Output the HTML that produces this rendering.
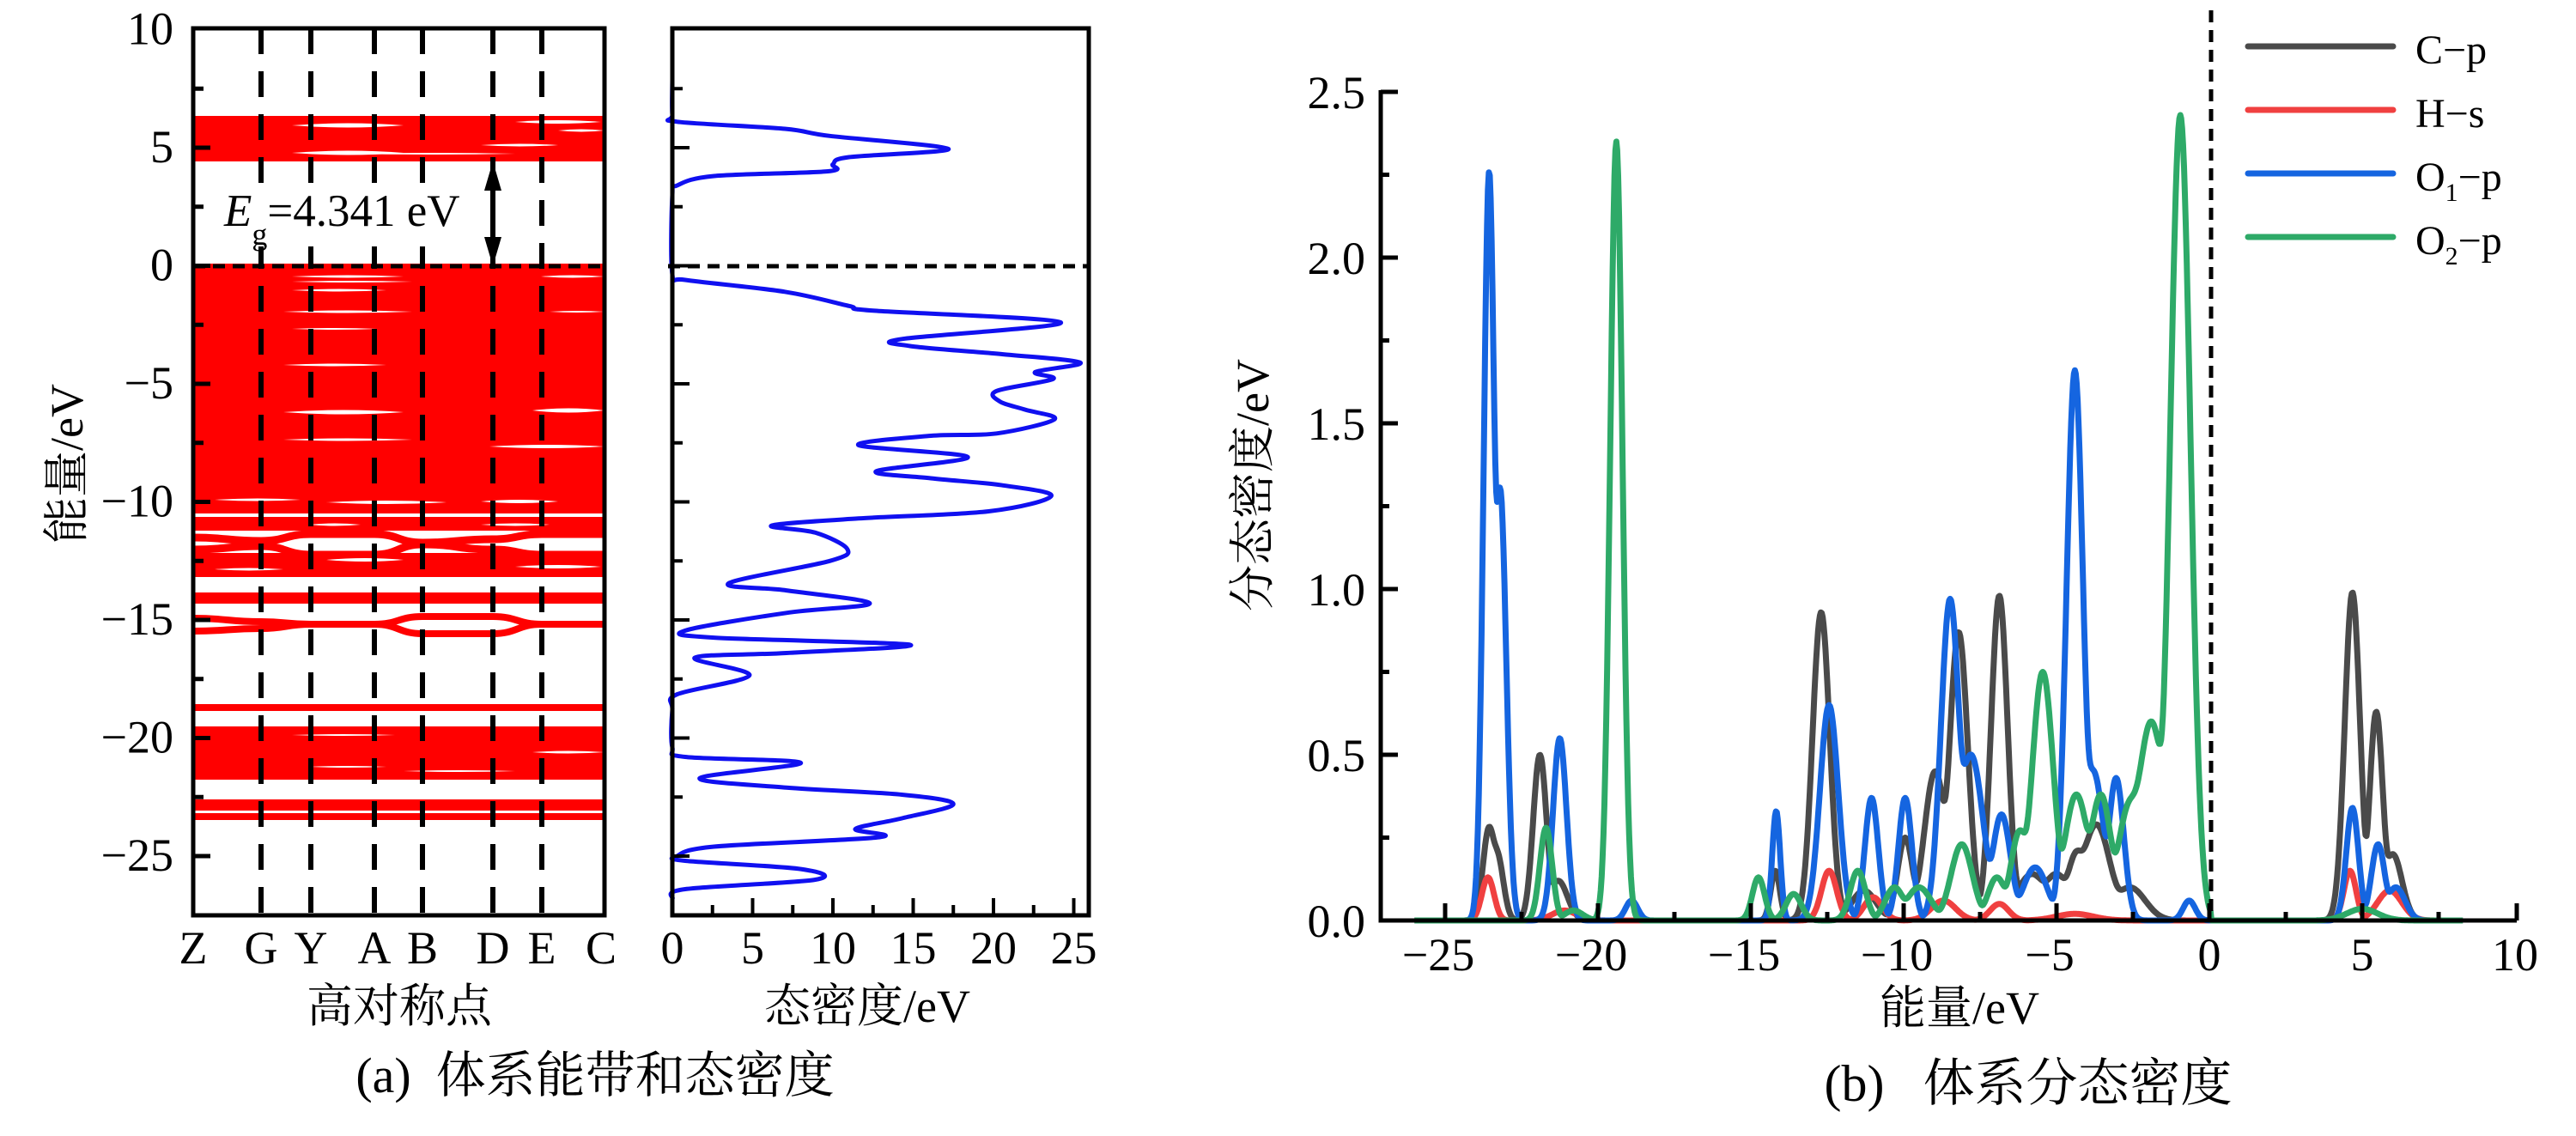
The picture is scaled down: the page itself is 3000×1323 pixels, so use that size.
<!DOCTYPE html>
<html><head><meta charset="utf-8"><style>
html,body{margin:0;padding:0;background:#fff}
svg{display:block}
text{font-family:"Liberation Serif","Noto Serif CJK SC",serif;fill:#000}
.cjk{font-family:"Liberation Serif","Noto Serif CJK SC","Noto Sans CJK SC",serif}
</style></head><body>
<svg id="s" width="3000" height="1323" viewBox="0 0 3000 1323" xmlns="http://www.w3.org/2000/svg">
<rect width="3000" height="1323" fill="#fff"/>
<g id="bands"></g>
<g id="dos"></g>
<g id="pdos"></g>
<g id="axes" stroke="#000" fill="none"></g>
<g id="txt"></g>
</svg>
<script>
const NS="http://www.w3.org/2000/svg";
function el(p,t,a,txt){const e=document.createElementNS(NS,t);for(const k in a)e.setAttribute(k,a[k]);if(txt!==undefined)e.textContent=txt;p.appendChild(e);return e;}
const B=document.getElementById('bands'),D=document.getElementById('dos'),P=document.getElementById('pdos'),A=document.getElementById('axes'),T=document.getElementById('txt');
const yE=E=>309.5-27.5*E;
const L=225,R=704,TOP=33,BOT=1066;
const xs=[225,304,362,436,492,574,631,704];
function rectY(y1,y2){el(B,'rect',{x:L,y:y1,width:R-L,height:y2-y1,fill:'#f00'});}
function pathK(ys,w){
 let d='M'+xs[0]+' '+ys[0];
 for(let i=1;i<xs.length;i++){const xm=(xs[i-1]+xs[i])/2;d+=` C${xm} ${ys[i-1]} ${xm} ${ys[i]} ${xs[i]} ${ys[i]}`;}
 el(B,'path',{d:d,stroke:'#f00','stroke-width':w,fill:'none'});
}
function lens(x1,x2,y,h,col){const xm=(x1+x2)/2;el(B,'path',{d:`M${x1} ${y} Q${xm} ${y-h} ${x2} ${y} Q${xm} ${y+h} ${x1} ${y}Z`,fill:col||'#fff'});}
rectY(135,188);
lens(340,470,146,5);lens(340,470,178,5);lens(600,700,142,4);lens(560,650,169,3);lens(400,600,179,2);lens(650,704,152,3);
rectY(307,598);
[[340,470,322,3],[340,480,328,2],[340,450,338,3],[630,704,322,3],[330,480,363,3],[640,704,363,2],[340,440,383,2],[330,470,480,5],[620,704,478,5],[330,450,425,3],[570,704,520,4],[330,480,512,3],[380,520,585,4],[560,650,584,4],[250,350,582,3]].forEach(g=>lens(g[0],g[1],g[2],g[3]));
rectY(602,618);
lens(360,420,611,3);lens(560,640,611,3);
pathK([626,630,622,622,632,628,622,622],9);
pathK([640,636,646,646,634,640,646,646],9);
rectY(644,672);
lens(380,470,652,4);lens(600,700,660,4);lens(250,330,663,3);
rectY(690,703);
pathK([720,724,727,727,718,718,727,727],8);
pathK([735,732,727,727,738,738,727,727],8);
rectY(820,828);
rectY(846,908);
lens(340,460,856,2);lens(620,704,876,3);lens(360,450,893,2);lens(470,600,898,2);
rectY(931,944);rectY(947,955);
[304,362,436,492,574,631].forEach(x=>el(A,'line',{x1:x,x2:x,y1:TOP,y2:BOT,'stroke-width':6,'stroke-dasharray':'30 20'}));
el(A,'line',{x1:L,x2:R,y1:310,y2:310,'stroke-width':5,'stroke-dasharray':'14 9'});
el(A,'rect',{x:L,y:TOP,width:R-L,height:BOT-TOP,'stroke-width':5});
for(let e=10;e>=-27.5;e-=2.5){const y=yE(e);if(y<TOP+3||y>BOT-3)continue;const maj=Math.abs(e%5)<0.01;el(A,'line',{x1:L,x2:L+(maj?20:12),y1:y,y2:y,'stroke-width':5});}
[10,5,0,-5,-10,-15,-20,-25].forEach(e=>el(T,'text',{x:202,y:yE(e)+17,'font-size':54,'text-anchor':'end'},(e<0?'\u2212':'')+Math.abs(e)));
el(A,'line',{x1:574,x2:574,y1:215,y2:285,'stroke-width':6});
el(T,'path',{d:'M574 188 L564 222 L584 222Z M574 310 L564 276 L584 276Z',fill:'#000'});
el(T,'rect',{x:257,y:222,width:300,height:65,fill:'#fff'});
const eg=el(T,'text',{x:261,y:263,'font-size':53});
el(eg,'tspan',{'font-style':'italic'},'E');el(eg,'tspan',{dy:22,'font-size':36},'g');el(eg,'tspan',{dy:-22},'=4.341 eV');
['Z','G','Y','A','B','D','E','C'].forEach((c,i)=>el(T,'text',{x:[225,304,362,436,492,574,631,700][i],y:1122,'font-size':54,'text-anchor':'middle'},c));
el(T,'text',{x:465,y:1190,'font-size':54,'text-anchor':'middle',class:'cjk'},'高对称点');
el(T,'text',{x:0,y:0,'font-size':54,'text-anchor':'middle',class:'cjk',transform:'translate(96,540) rotate(-90)'},'能量/eV');
const DL=783,DR=1268;const xD=d=>783+d*18.7;
el(A,'rect',{x:DL,y:TOP,width:DR-DL,height:BOT-TOP,'stroke-width':5});
for(let e=7.5;e>=-27.5;e-=2.5){const y=yE(e);if(y<TOP+3||y>BOT-3)continue;const maj=Math.abs(e%5)<0.01;el(A,'line',{x1:DL,x2:DL+(maj?20:12),y1:y,y2:y,'stroke-width':4});}
for(let d=2.5;d<25.1;d+=2.5){const x=xD(d);const maj=Math.abs(d%5)<0.01;el(A,'line',{x1:x,x2:x,y1:BOT,y2:BOT-(maj?20:12),'stroke-width':4});}
el(A,'line',{x1:DL-5,x2:DR,y1:310,y2:310,'stroke-width':5,'stroke-dasharray':'14 9'});
[0,5,10,15,20,25].forEach(d=>el(T,'text',{x:xD(d),y:1122,'font-size':54,'text-anchor':'middle'},String(d)));
el(T,'text',{x:1010,y:1190,'font-size':54,'text-anchor':'middle',class:'cjk'},'态密度/eV');
el(T,'text',{x:693,y:1272,'font-size':58,'text-anchor':'middle',class:'cjk'},'(a)\u00a0\u00a0体系能带和态密度');
const dp=[[0,7.9],[0,6.4],[0.3,6.1],[7,5.8],[9.8,5.5],[17.2,4.95],[11,4.6],[10,4.3],[9.7,4.0],[2.6,3.8],[0.3,3.4],[0,3.0],[0,-0.37],[0.8,-0.6],[7,-1.1],[11,-1.7],[12.5,-1.9],[24.2,-2.4],[14.3,-3.1],[14.8,-3.4],[20.6,-3.75],[25.4,-4.1],[22.6,-4.5],[23.7,-4.8],[20.2,-5.3],[20.4,-5.75],[22,-6.1],[23.8,-6.5],[20.2,-7.1],[16.1,-7.2],[11.6,-7.6],[18.4,-8.1],[12.7,-8.7],[16.1,-9.0],[20.6,-9.3],[23.6,-9.75],[19.7,-10.4],[11.6,-10.7],[6.2,-11.0],[8.9,-11.3],[10.9,-12],[9.8,-12.5],[3.5,-13.45],[7.1,-13.75],[12.3,-14.3],[7.1,-14.7],[0.8,-15.45],[2.6,-15.75],[14.8,-16.05],[7.1,-16.4],[1.4,-16.6],[4.8,-17.35],[0.3,-18.15],[0,-18.8],[0,-20.4],[0.8,-20.8],[8,-21.05],[1.7,-21.7],[7.1,-22.1],[14.3,-22.4],[17.5,-22.8],[14.3,-23.4],[11.4,-23.85],[12.9,-24.2],[2.6,-24.6],[0.3,-25],[0.8,-25.2],[8,-25.55],[8.9,-26],[0.8,-26.4],[0,-26.8]];
const pp=dp.map(p=>[xD(p[0]),yE(p[1])]);
let d='M'+pp[0][0]+' '+pp[0][1];
for(let i=0;i<pp.length-1;i++){const p0=pp[Math.max(0,i-1)],p1=pp[i],p2=pp[i+1],p3=pp[Math.min(pp.length-1,i+2)];
 const c1=[p1[0]+(p2[0]-p0[0])/6,p1[1]+(p2[1]-p0[1])/6],c2=[p2[0]-(p3[0]-p1[0])/6,p2[1]-(p3[1]-p1[1])/6];
 d+=` C${c1[0].toFixed(1)} ${c1[1].toFixed(1)} ${c2[0].toFixed(1)} ${c2[1].toFixed(1)} ${p2[0].toFixed(1)} ${p2[1].toFixed(1)}`;}
el(D,'path',{d:d,fill:'none',stroke:'#1010f0','stroke-width':5,'stroke-linejoin':'round'});
const X=E=>2573+35.6*E, Y=v=>1072-386*v;
const X0=1608,X1=2931,Y0=1072;
function curve(peaks,col){
 let pts=[];
 for(let E=-26;E<=8.3;E+=0.03){
  let v=0;
  peaks.forEach(p=>{const s=p[2]||0.2;v+=Math.pow(p[1]*Math.exp(-((E-p[0])**2)/(2*s*s)),3);});
  v=Math.pow(v,1/3);
  if(E>0.05&&E<3.5)v=0;
  pts.push(X(E).toFixed(1)+','+Y(v).toFixed(1));
 }
 el(P,'polyline',{points:pts.join(' '),fill:'none',stroke:col,'stroke-width':7,'stroke-linejoin':'round'});
}
curve([[-23.56,0.28,0.2],[-23.3,0.2,0.2],[-21.9,0.5,0.22],[-21.3,0.12,0.3],[-14.2,0.15,0.15],[-12.7,0.93,0.28],[-11.3,0.09,0.4],[-9.95,0.25,0.25],[-8.97,0.45,0.35],[-8.2,0.87,0.3],[-6.87,0.98,0.27],[-5.8,0.14,0.5],[-5.0,0.14,0.4],[-4.35,0.2,0.3],[-3.7,0.29,0.45],[-2.6,0.1,0.5],[4.68,0.99,0.25],[5.46,0.63,0.22],[6.0,0.2,0.3]],'#4a4a4a');
curve([[-23.6,0.13,0.2],[-21.1,0.03,0.4],[-12.44,0.15,0.25],[-11.0,0.07,0.3],[-8.7,0.06,0.4],[-6.87,0.05,0.3],[-4.4,0.02,0.6],[4.6,0.15,0.2],[5.9,0.09,0.4]],'#f04040');
curve([[-23.56,2.26,0.18],[-23.2,1.3,0.2],[-21.25,0.55,0.22],[-18.9,0.06,0.2],[-14.17,0.33,0.13],[-12.44,0.65,0.3],[-11.05,0.37,0.22],[-9.95,0.37,0.22],[-8.48,0.97,0.3],[-7.8,0.5,0.4],[-6.8,0.32,0.3],[-5.7,0.16,0.4],[-4.4,1.66,0.27],[-3.8,0.45,0.35],[-3.05,0.43,0.25],[-0.66,0.06,0.2],[4.68,0.34,0.2],[5.52,0.23,0.22],[6.1,0.1,0.3]],'#1565e0');
curve([[-21.7,0.28,0.2],[-20.8,0.03,0.3],[-19.4,2.35,0.2],[-14.75,0.13,0.2],[-13.6,0.08,0.25],[-11.5,0.15,0.25],[-10.3,0.1,0.3],[-9.5,0.1,0.4],[-8.1,0.23,0.35],[-6.95,0.13,0.3],[-6.2,0.27,0.3],[-5.45,0.75,0.35],[-4.35,0.38,0.4],[-3.55,0.38,0.35],[-2.6,0.35,0.4],[-1.9,0.6,0.45],[-0.95,2.43,0.33],[5.0,0.035,0.5]],'#2eaa68');
el(A,'line',{x1:X0,x2:X0,y1:105,y2:Y0+2.5,'stroke-width':5});
el(A,'line',{x1:X0-2.5,x2:X1,y1:Y0,y2:Y0,'stroke-width':5});
el(A,'line',{x1:X1,x2:X1,y1:Y0,y2:Y0-20,'stroke-width':5});
for(let v=0.25;v<2.51;v+=0.25){const y=Y(v);const maj=Math.abs((v*2)%1)<0.01;el(A,'line',{x1:X0,x2:X0+(maj?20:10),y1:y,y2:y,'stroke-width':5});}
for(let e=-25;e<10;e+=2.5){const x=X(e);const maj=Math.abs(e%5)<0.01;el(A,'line',{x1:x,x2:x,y1:Y0,y2:Y0-(maj?20:10),'stroke-width':5});}
el(A,'line',{x1:2575,x2:2575,y1:12,y2:Y0,'stroke-width':5,'stroke-dasharray':'14 9'});
['0.0','0.5','1.0','1.5','2.0','2.5'].forEach((t,i)=>el(T,'text',{x:1590,y:Y(i*0.5)+19,'font-size':54,'text-anchor':'end'},t));
[-25,-20,-15,-10,-5,0,5,10].forEach(e=>el(T,'text',{x:X(e)+(e<0?-8:0),y:1130,'font-size':54,'text-anchor':'middle'},(e<0?'\u2212':'')+Math.abs(e)));
el(T,'text',{x:2282,y:1192,'font-size':54,'text-anchor':'middle',class:'cjk'},'能量/eV');
el(T,'text',{x:0,y:0,'font-size':54,'text-anchor':'middle',class:'cjk',transform:'translate(1477,565) rotate(-90)'},'分态密度/eV');
el(T,'text',{x:2362,y:1282,'font-size':60,'text-anchor':'middle',class:'cjk'},'(b)\u00a0\u00a0\u00a0体系分态密度');
const lg=[['#4a4a4a','C','','p'],['#f04040','H','','s'],['#1565e0','O','1','p'],['#2eaa68','O','2','p']];
lg.forEach((l,i)=>{const y=54+i*74;
 el(P,'line',{x1:2618,x2:2787,y1:y,y2:y,stroke:l[0],'stroke-width':7,'stroke-linecap':'round'});
 const t=el(T,'text',{x:2813,y:y+20,'font-size':48});
 el(t,'tspan',{},l[1]);
 if(l[2]){el(t,'tspan',{dy:12,'font-size':30},l[2]);el(t,'tspan',{dy:-12},'\u2212'+l[3]);}
 else el(t,'tspan',{},'\u2212'+l[3]);
});
</script>
</body></html>
